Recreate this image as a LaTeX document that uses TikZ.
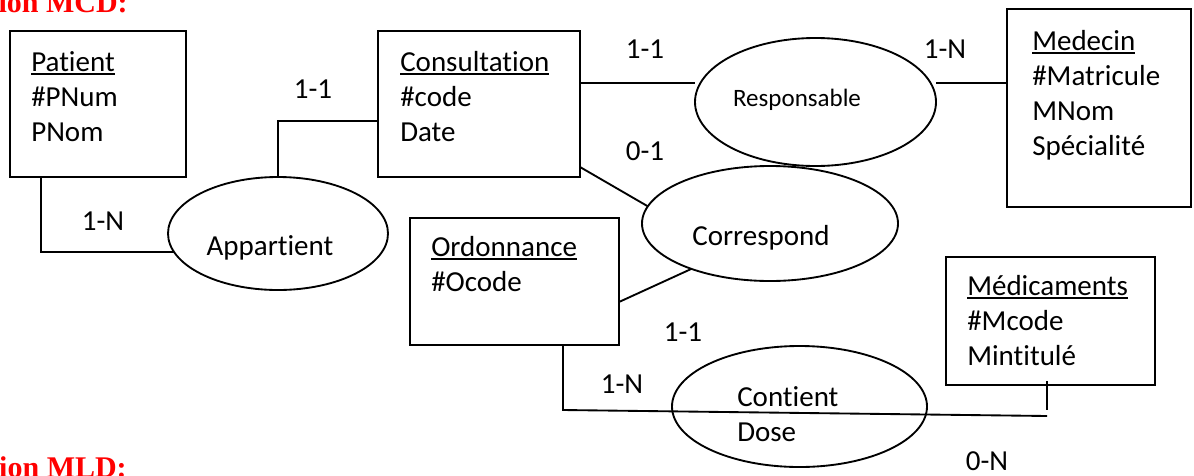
\documentclass[tikz,border=0pt]{standalone}
\usepackage{fontspec}
\setmainfont{Carlito}[Ligatures=NoCommon]
\newfontfamily\titrefont{Liberation Serif}
\usetikzlibrary{positioning,shapes.geometric}
\newcommand{\souligne}[1]{\setbox0\hbox{#1}\rlap{\rule[-3pt]{\wd0}{1.6pt}}\box0}

\begin{document}
\begin{tikzpicture}[x=0.75pt, y=-0.75pt,
  entity/.style={draw, line width=1.8pt, anchor=north west, inner sep=0pt, outer sep=0pt},
  assoc/.style={draw, ellipse, line width=1.4pt, inner sep=0pt, outer sep=0pt},
  attrs/.style={font=\fontsize{21.75}{26.25}\selectfont, align=left, anchor=base west, inner sep=0pt},
  rel/.style={font=\fontsize{21.75}{26.25}\selectfont, anchor=base, inner sep=0pt},
  card/.style={font=\fontsize{21.75}{26.25}\selectfont, anchor=base, inner sep=0pt},
  link/.style={line width=1.4pt},
  titre/.style={font=\titrefont\bfseries\fontsize{22.5}{27}\selectfont, text=red, anchor=base east, inner sep=0pt}
]
\useasboundingbox (0,0) rectangle (1194,475);
\clip (0,0) rectangle (1194,475);

% Entities
\node[entity, minimum width=132pt, minimum height=109.5pt] (patient) at (10,31) {};
\node[entity, minimum width=151.5pt, minimum height=109.5pt] (consultation) at (378,31) {};
\node[entity, minimum width=138pt, minimum height=148.5pt] (medecin) at (1007,9) {};
\node[entity, minimum width=156.75pt, minimum height=95.25pt] (ordonnance) at (410,218) {};
\node[entity, minimum width=156.75pt, minimum height=96pt] (medicaments) at (946,257) {};

% (base = baseline of the last line)
\node[attrs] (patientTxt) at ([shift={(21,110)}]patient.north west) {\souligne{Patient}\\\#PNum\\PNom};
\node[attrs] (consultationTxt) at ([shift={(22,110)}]consultation.north west) {\souligne{Consultation}\\\#code\\Date};
\node[attrs] (medecinTxt) at ([shift={(25,146)}]medecin.north west) {\souligne{Medecin}\\\#Matricule\\MNom\\Spécialité};
\node[attrs] (ordonnanceTxt) at ([shift={(21,73)}]ordonnance.north west) {\souligne{Ordonnance}\\\#Ocode};
\node[attrs] (medicamentsTxt) at ([shift={(21,108)}]medicaments.north west) {\souligne{Médicaments}\\\#Mcode\\Mintitulé};

% Associations
\node[assoc, minimum width=165pt, minimum height=84.75pt] (appartient) at (278,233.5) {};
\node[assoc, minimum width=180.75pt, minimum height=96pt] (responsable) at (815.5,102) {};
\node[assoc, minimum width=192pt, minimum height=86.25pt] (correspond) at (770,223.5) {};
\node[assoc, minimum width=191.25pt, minimum height=90.75pt] (contient) at (799.5,406.5) {};

\node[rel] (appartientTxt) at ([shift={(-8,21.5)}]appartient.center) {Appartient};
\node[rel, font=\fontsize{18.75}{22}\selectfont] (responsableTxt) at ([shift={(-18.5,4)}]responsable.center) {Responsable};
\node[rel] (correspondTxt) at ([shift={(-9,21.5)}]correspond.center) {Correspond};
\node[attrs] (contientTxt) at ([shift={(-62.5,35)}]contient.center) {Contient\\Dose};

% Links
\draw[link] ([shift={(31,0)}]patient.south west) |- (appartient.190);
\draw[link] (appartient.north) |- ([shift={(0,17)}]consultation.west);
\draw[link] ([shift={(0,-21)}]consultation.east) -- ([shift={(0,-19)}]responsable.west);
\draw[link] ([shift={(0,-19)}]responsable.east) -- ([shift={(0,-25)}]medecin.west);
\draw[link] ([shift={(0,-10)}]consultation.south east) -- (correspond.172);
\draw[link] ([shift={(0,20.5)}]ordonnance.east) -- (correspond.210);
\coordinate (doseFin) at ([shift={(-3.5,31)}]medicaments.south);
\draw[link] ([shift={(48.5,0)}]ordonnance.south) -- ++(0,65) -- (doseFin);
\draw[link] ([shift={(-3.5,-4)}]medicaments.south) -- ++(0,29);

% Cardinalities
\node[card] (cPatient) at (103,230) {1-N};
\node[card] (cConsApp) at (313,98) {1-1};
\node[card] (cConsResp) at (645,58) {1-1};
\node[card] (cMedecin) at (945,58) {1-N};
\node[card] (cConsCorr) at (645,160) {0-1};
\node[card] (cOrdCorr) at (683,341) {1-1};
\node[card] (cOrdCont) at (622,393) {1-N};
\node[card] (cMedic) at (987,470) {0-N};

% Titles (cut by the page edge)
\node[titre] (titreMCD) at (128,12) {ion MCD:};
\node[titre] (titreMLD) at (127,477) {ion MLD:};
\end{tikzpicture}
\end{document}
